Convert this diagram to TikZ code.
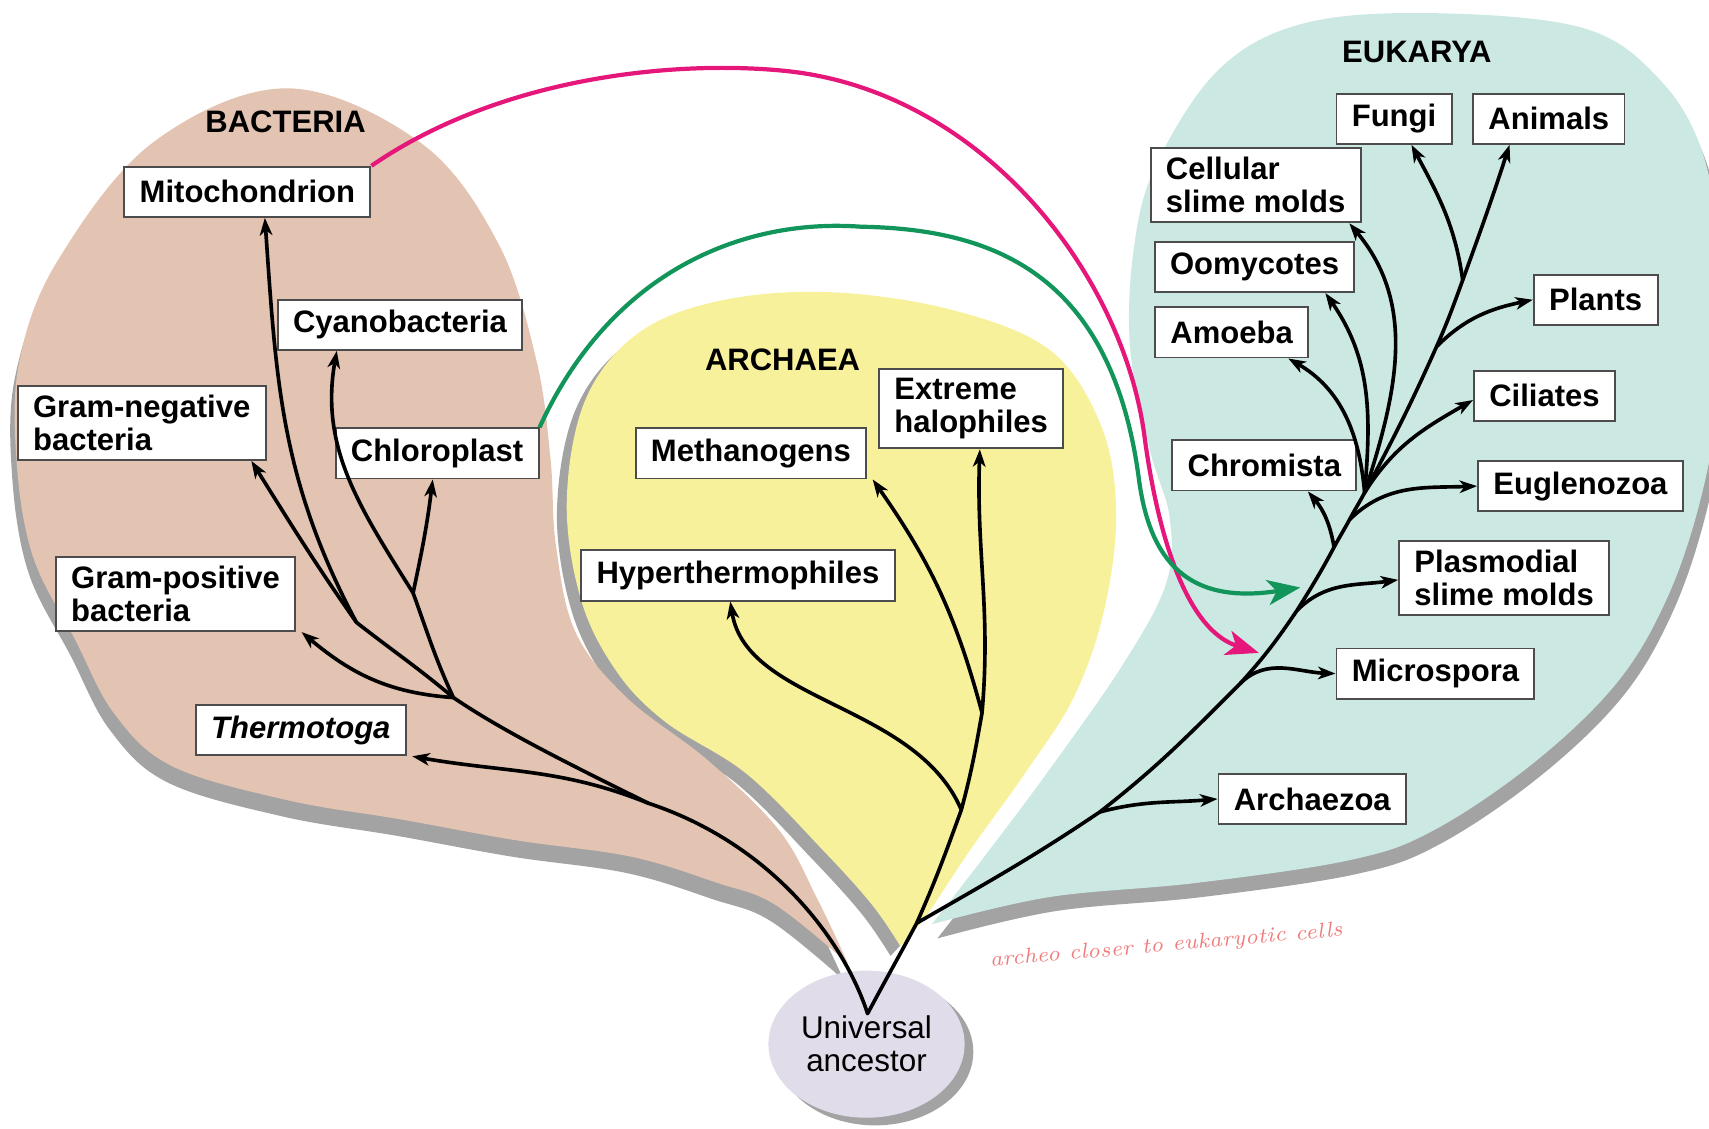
\documentclass[tikz,border=0pt]{standalone}
\usepackage{fontspec}
\newfontfamily\labelfont{Liberation Sans}
\usetikzlibrary{arrows.meta,shapes.geometric,positioning}
\definecolor{bactTan}{HTML}{E3C3B1}
\definecolor{archYellow}{HTML}{F8F19B}
\definecolor{eukTeal}{HTML}{CCE8E3}
\definecolor{ancLilac}{HTML}{E1DCEA}
\definecolor{shadowGray}{HTML}{A3A3A3}
\definecolor{mitoPink}{HTML}{E5177B}
\definecolor{chloroGreen}{HTML}{12955A}
\definecolor{noteRed}{HTML}{F07C7C}
\tikzset{
    taxon/.style={draw=black!70, line width=0.5pt, rectangle, fill=white, font=\labelfont\fontsize{8.1}{8.6}\selectfont\bfseries, inner xsep=4pt, inner ysep=2.4pt, minimum height=0.46cm, align=left},
    domainLabel/.style={font=\labelfont\fontsize{8.1}{8.6}\selectfont\bfseries},
    treeLine/.style={line width=0.95pt, line cap=round},
    treeArrow/.style={line width=0.95pt, -{Stealth[length=1.6mm, width=1.15mm, inset=0.45mm]}},
    transferArrow/.style={line width=1.1pt, -{Stealth[length=3mm, width=2.3mm, inset=0.8mm]}},
}

\begin{document}
\begin{tikzpicture}
\tikzstyle{ancestor}=[ellipse, fill=ancLilac, minimum width=1.80cm, minimum height=1.35cm, inner sep=0pt, align=center, font=\labelfont\fontsize{8.2}{8.6}\selectfont, preaction={fill=shadowGray, transform canvas={xshift=0.8mm, yshift=-0.7mm}}]
\tikzstyle{note}=[text=noteRed, font=\fontsize{5.6}{6.5}\selectfont\itshape]

\useasboundingbox (0,0) rectangle (15.68,-10.35);

\fill[archYellow, preaction={fill=shadowGray, transform canvas={xshift=-0.9mm, yshift=-0.9mm}}] plot[smooth, tension=0.6] coordinates {(8.26,-8.68) (8.50,-8.40) (8.90,-7.80) (9.40,-7.10) (9.85,-6.40) (10.13,-5.60) (10.24,-4.70) (10.10,-3.90) (9.63,-3.21) (8.72,-2.84) (7.60,-2.68) (6.60,-2.76) (5.85,-3.06) (5.37,-3.67) (5.20,-4.60) (5.33,-5.50) (5.65,-6.15) (6.10,-6.62) (6.85,-7.10) (7.55,-7.80) (8.00,-8.30) (8.26,-8.68)} -- cycle;
\fill[bactTan, preaction={fill=shadowGray, transform canvas={xshift=-0.4mm, yshift=-1.5mm}}] plot[smooth, tension=0.6] coordinates {(7.78,-8.84) (7.50,-8.25) (7.15,-7.62) (6.50,-6.98) (5.75,-6.40) (5.28,-5.80) (5.10,-5.00) (5.05,-4.20) (4.92,-3.30) (4.57,-2.23) (3.86,-1.31) (2.63,-0.81) (1.40,-1.31) (0.53,-2.39) (0.18,-3.30) (0.15,-4.20) (0.30,-5.10) (0.69,-5.87) (1.05,-6.55) (1.58,-7.03) (2.63,-7.34) (3.69,-7.52) (4.74,-7.71) (5.79,-7.86) (6.58,-8.10) (7.11,-8.30) (7.78,-8.84)} -- cycle;
\fill[eukTeal, preaction={fill=shadowGray, transform canvas={xshift=0.5mm, yshift=-1.3mm}}] plot[smooth, tension=0.6] coordinates {(8.55,-8.48) (9.63,-8.23) (10.98,-8.10) (12.39,-7.89) (13.15,-7.62) (14.07,-7.00) (14.83,-6.27) (15.29,-5.50) (15.60,-4.59) (15.78,-3.58) (15.80,-2.50) (15.62,-1.40) (15.20,-0.70) (14.50,-0.25) (13.10,-0.12) (11.94,-0.22) (11.17,-0.65) (10.60,-1.53) (10.40,-2.30) (10.37,-3.21) (10.55,-4.13) (10.73,-4.74) (10.70,-5.35) (10.30,-6.10) (9.60,-7.10) (9.00,-7.90) (8.55,-8.48)} -- cycle;

\node[ancestor] (ua) at (7.95,-9.58) {Universal\\ancestor};

\node[domainLabel] (bactLabel) at (2.62,-1.12) {BACTERIA};
\node[domainLabel] (archLabel) at (7.18,-3.30) {ARCHAEA};
\node[domainLabel] (eukLabel) at (13.00,-0.48) {EUKARYA};

\node[taxon] (mito) at (2.27,-1.76) {Mitochondrion};
\node[taxon] (cyano) at (3.67,-2.98) {Cyanobacteria};
\node[taxon] (gramNeg) at (1.30,-3.88) {Gram-negative\\bacteria};
\node[taxon] (chloro) at (4.01,-4.16) {Chloroplast};
\node[taxon] (gramPos) at (1.61,-5.45) {Gram-positive\\bacteria};
\node[taxon] (thermo) at (2.76,-6.70) {\itshape Thermotoga};

\node[taxon] (methano) at (6.89,-4.16) {Methanogens};
\node[taxon] (halo) at (8.91,-3.75) {Extreme\\halophiles};
\node[taxon] (hyper) at (6.77,-5.28) {Hyperthermophiles};

\node[taxon] (fungi) at (12.79,-1.09) {Fungi};
\node[taxon] (animals) at (14.21,-1.09) {Animals};
\node[taxon] (cellular) at (11.52,-1.70) {Cellular\\slime molds};
\node[taxon] (oomy) at (11.51,-2.45) {Oomycotes};
\node[taxon] (amoeba) at (11.30,-3.05) {Amoeba};
\node[taxon] (plants) at (14.64,-2.75) {Plants};
\node[taxon] (ciliates) at (14.17,-3.63) {Ciliates};
\node[taxon] (chromista) at (11.60,-4.27) {Chromista};
\node[taxon] (eugleno) at (14.50,-4.46) {Euglenozoa};
\node[taxon] (plasmo) at (13.80,-5.30) {Plasmodial\\slime molds};
\node[taxon] (micro) at (13.17,-6.18) {Microspora};
\node[taxon] (archaezoa) at (12.04,-7.33) {Archaezoa};

\node[note, rotate=5] (note) at (10.70,-8.68) {archeo closer to eukaryotic cells};

\coordinate (root) at (7.96,-9.30);
\coordinate (bT) at (5.95,-7.37);
\coordinate (b0) at (4.16,-6.40);
\coordinate (b1) at (3.27,-5.71);
\coordinate (b2) at (3.79,-5.44);
\coordinate (a0) at (8.41,-8.47);
\coordinate (a1) at (8.82,-7.43);
\coordinate (a2) at (9.01,-6.54);
\coordinate (e0) at (10.09,-7.45);
\coordinate (e1) at (11.38,-6.27);
\coordinate (e2) at (11.90,-5.60);
\coordinate (e3) at (12.24,-5.02);
\coordinate (e4) at (12.38,-4.77);
\coordinate (e5) at (12.52,-4.52);
\coordinate (e6) at (13.18,-3.18);
\coordinate (e7) at (13.42,-2.57);
\coordinate (pinkTip) at (11.55,-5.99);
\coordinate (greenTip) at (11.93,-5.39);

\draw[treeLine] (root) .. controls (7.75,-8.65) and (7.10,-7.75) .. (bT) .. controls (5.2,-7.0) and (4.6,-6.7) .. (b0) to[out=140,in=-38] (b1);
\draw[treeLine] (b0) to[out=115,in=-70] (b2);
\draw[treeArrow] (bT) to[out=158,in=-10] ([xshift=0.5mm]thermo.south east);
\draw[treeArrow] (b0) to[out=176,in=-40] ([xshift=0.5mm]gramPos.south east);
\draw[treeArrow] (b1) to[out=125,in=-58] ([xshift=-1.4mm]gramNeg.south east);
\draw[treeArrow] (b1) to[out=118,in=-86] ([xshift=1.6mm]mito.south);
\draw[treeArrow] (b2) to[out=122,in=-100] ([xshift=-5.8mm]cyano.south);
\draw[treeArrow] (b2) to[out=78,in=-97] ([xshift=-0.4mm]chloro.south);

\draw[treeLine] (root) to[out=62,in=-118] (a0) to[out=66,in=-110] (a1) to[out=75,in=-100] (a2);
\draw[treeArrow] (a1) .. controls (8.4,-6.45) and (6.85,-6.45) .. ([xshift=-0.7mm]hyper.south);
\draw[treeArrow] (a2) to[out=105,in=-55] ([xshift=0.5mm]methano.south east);
\draw[treeArrow] (a2) to[out=85,in=-92] ([xshift=0.8mm]halo.south);

\draw[treeLine] (a0) to[out=30,in=-146] (e0) to[out=38,in=-135] (e1) to[out=48,in=-124] (e2) to[out=58,in=-118] (e3) to[out=62,in=-118] (e4) to[out=62,in=-118] (e5) to[out=62,in=-114] (e6) to[out=66,in=-110] (e7);
\draw[treeArrow] (e0) to[out=15,in=185] (archaezoa.west);
\draw[treeArrow] (e1) to[out=45,in=178] (micro.west);
\draw[treeArrow] (e2) to[out=45,in=188] ([yshift=-0.2mm]plasmo.west);
\draw[treeArrow] (e3) to[out=100,in=-50] ([xshift=4mm]chromista.south);
\draw[treeArrow] (e4) to[out=45,in=182] (eugleno.west);
\draw[treeArrow] (e5) to[out=95,in=-30] ([xshift=5.2mm]amoeba.south);
\draw[treeArrow] (e5) to[out=85,in=-55] ([xshift=6.5mm]oomy.south);
\draw[treeArrow] (e5) to[out=72,in=-50] ([xshift=8.6mm]cellular.south);
\draw[treeArrow] (e5) to[out=58,in=-150] ([yshift=-0.4mm]ciliates.west);
\draw[treeArrow] (e6) to[out=45,in=192] (plants.west);
\draw[treeArrow] (e7) to[out=98,in=-62] ([xshift=1.6mm]fungi.south);
\draw[treeArrow] (e7) to[out=70,in=-108] ([xshift=-3.6mm]animals.south);

\draw[transferArrow, mitoPink] (mito.north east) .. controls (4.6,-0.7) and (6.2,-0.55) .. (7.2,-0.65) .. controls (9.0,-0.83) and (10.3,-2.5) .. (10.5,-4.0) .. controls (10.58,-4.6) and (10.8,-5.75) .. (pinkTip);
\draw[transferArrow, chloroGreen] (chloro.north east) .. controls (5.6,-2.5) and (6.8,-2.0) .. (7.9,-2.08) .. controls (9.1,-2.1) and (10.2,-2.5) .. (10.45,-4.4) .. controls (10.55,-5.15) and (10.9,-5.55) .. (greenTip);

\end{tikzpicture}
\end{document}
